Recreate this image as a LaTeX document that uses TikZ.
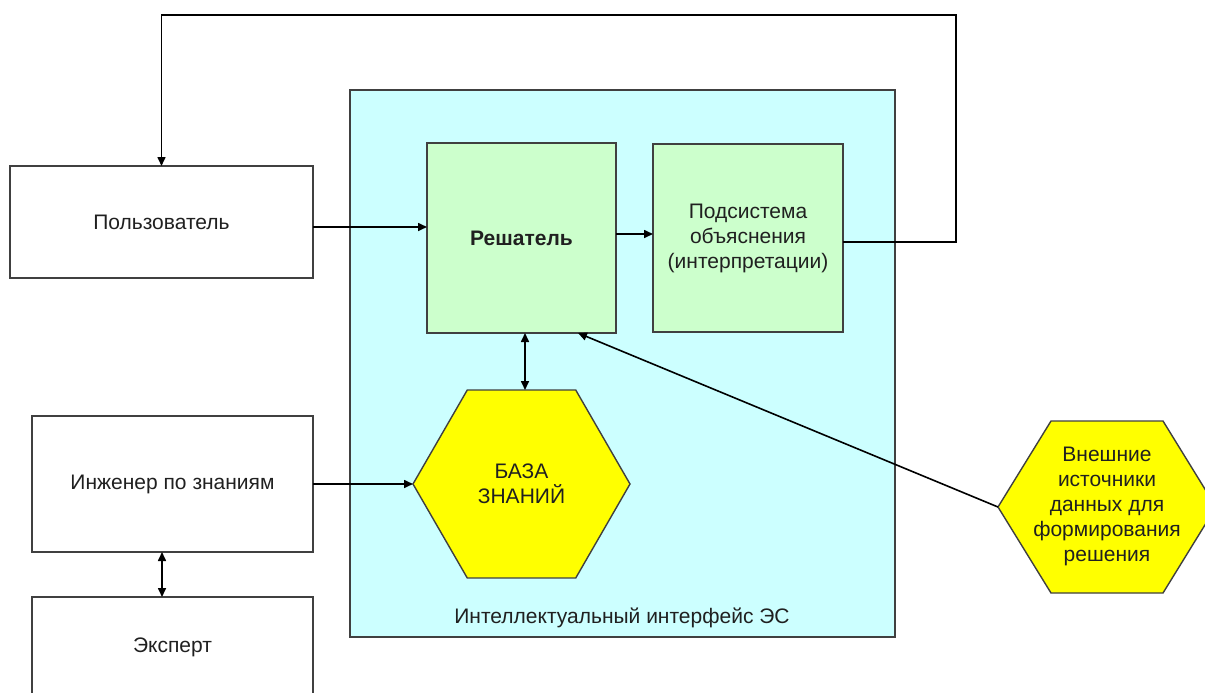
\documentclass[tikz,border=0pt]{standalone}
\usepackage{fontspec}
\setmainfont{Liberation Sans}
\usetikzlibrary{arrows.meta,shapes.geometric,calc}
\definecolor{frameCyan}{HTML}{CCFFFF}
\definecolor{boxGreen}{HTML}{CCFFCC}
\definecolor{hexYellow}{HTML}{FFFF00}
\definecolor{edgeGray}{HTML}{404040}
\definecolor{txtGray}{HTML}{202020}
\tikzset{
  every node/.style={font=\fontsize{21}{25}\selectfont, text=txtGray, outer sep=0pt},
  plainbox/.style={draw=edgeGray, line width=1.8pt, fill=white, rectangle, inner sep=0pt},
  greenbox/.style={plainbox, fill=boxGreen},
  hexnode/.style={draw=edgeGray, line width=1.4pt, fill=hexYellow, regular polygon, regular polygon sides=6, inner sep=0pt, align=center},
  conn/.style={draw=black, line width=1.6pt, -{Triangle[length=9pt,width=8pt]}},
  biconn/.style={draw=black, line width=1.6pt, {Triangle[length=9pt,width=8pt]}-{Triangle[length=9pt,width=8pt]}}
}
\begin{document}
\begin{tikzpicture}[x=1pt,y=-1pt]
\useasboundingbox (0,0) rectangle (1205,693);
\clip (0,0) rectangle (1205,693);
\fill[white] (0,0) rectangle (1205,693);

% interface frame
\node[plainbox, fill=frameCyan, minimum width=545pt, minimum height=547pt] (iface) at (622.5,363.5) {};
\node (ifacelabel) at (622,618) {Интеллектуальный интерфейс ЭС};

% participants
\node[plainbox, minimum width=303pt, minimum height=112pt] (user) at (161.5,222) {Пользователь};
\node[plainbox, minimum width=281pt, minimum height=136pt] (eng) at (172.5,484) {Инженер по знаниям};
\node[plainbox, minimum width=281pt, minimum height=100pt, anchor=north] (expert) at (172.5,597) {};
\node (expertlabel) at (172.5,647) {Эксперт};

% inner blocks
\node[greenbox, minimum width=189pt, minimum height=190pt, font=\fontsize{21}{25}\selectfont\bfseries] (solver) at (521.5,238) {Решатель};
\node[greenbox, minimum width=190pt, minimum height=188pt, align=center] (expl) at (748,238) {Подсистема\\объяснения\\(интерпретации)};

% knowledge base
\node[hexnode, minimum size=217pt] (kb) at (521.5,484) {БАЗА\\ЗНАНИЙ};

% external sources (stretched hexagon)
\draw[draw=edgeGray, line width=1.4pt, fill=hexYellow]
  (998,507) -- (1051,421) -- (1163,421) -- (1216,507) -- (1163,593) -- (1051,593) -- cycle;
\coordinate (ext) at (998,507);
\node[align=center] (extlabel) at (1107,506) {Внешние\\источники\\данных для\\формирования\\решения};

% connectors
\draw[conn] (user.east |- 0,227) -- (solver.west |- 0,227);
\draw[conn] (solver.east |- 0,234) -- (expl.west |- 0,234);
\coordinate (loopR) at (956,15);
\draw[conn] (expl.east |- 0,242) -| (loopR) -| (user.north);
\draw[biconn] (solver.south -| 525,0) -- (kb.north -| 525,0);
\draw[conn] (eng.east) -- (kb.west);
\draw[biconn] (eng.south -| 162,0) -- (expert.north -| 162,0);
\draw[conn] (ext) -- (solver.south -| 578,0);
\end{tikzpicture}
\end{document}
